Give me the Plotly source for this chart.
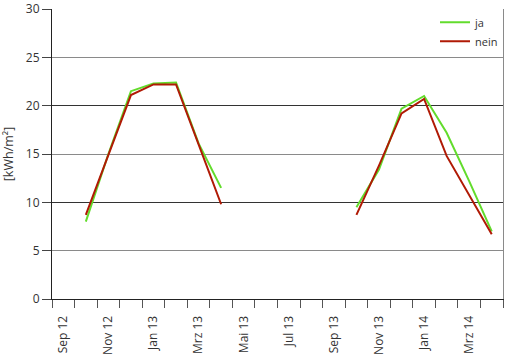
import plotly.graph_objects as go

months = ["Sep 12", "Okt 12", "Nov 12", "Dez 12", "Jan 13", "Feb 13", "Mrz 13", "Apr 13",
          "Mai 13", "Jun 13", "Jul 13", "Aug 13", "Sep 13", "Okt 13", "Nov 13", "Dez 13",
          "Jan 14", "Feb 14", "Mrz 14", "Apr 14"]
ja = [None, 8.0, 15.0, 21.5, 22.3, 22.4, 16.1, 11.5,
      None, None, None, None, None, 9.5, 13.4, 19.7,
      21.0, 17.2, 12.2, 7.0]
nein = [None, 8.7, 15.0, 21.1, 22.2, 22.2, 16.0, 9.8,
        None, None, None, None, None, 8.7, 13.8, 19.2,
        20.7, 14.8, 10.8, 6.7]
y_max = 30
y_step = 5
y_major_step = 10

font = "Open Sans, Noto Sans, DejaVu Sans, sans-serif"

fig = go.Figure()
fig.add_trace(go.Scatter(x=months, y=ja, name="ja", mode="lines",
                         line=dict(color="#62dc2c", width=2), connectgaps=False))
fig.add_trace(go.Scatter(x=months, y=nein, name="nein", mode="lines",
                         line=dict(color="#b01a05", width=2), connectgaps=False))
# invisible trace to activate the overlay axis used for the darker grid lines
fig.add_trace(go.Scatter(x=months, y=[None] * len(months), yaxis="y2",
                         showlegend=False, hoverinfo="skip"))

fig.update_layout(
    width=506, height=357,
    margin=dict(l=52, r=2.5, t=9, b=58, autoexpand=False),
    paper_bgcolor="white", plot_bgcolor="white",
    font=dict(family=font, size=12, color="#333333"),
    showlegend=True,
    legend=dict(x=1, xanchor="right", y=1.004, yanchor="top", bgcolor="rgba(0,0,0,0)",
                font=dict(size=11, color="#333333"), tracegroupgap=0,
                itemwidth=30),
    xaxis=dict(
        type="category", categoryorder="array", categoryarray=months,
        range=[-0.5, len(months) - 0.5], automargin=False,
        showgrid=False, showline=True, linecolor="#222222", linewidth=1,
        ticks="outside", ticklen=8, tickcolor="#555555", tickson="boundaries",
        dtick=1, ticklabelstep=2, tickangle=-90, ticklabelstandoff=11,
        tickfont=dict(size=12, color="#333333"),
    ),
    yaxis=dict(
        range=[0, y_max], tick0=0, dtick=y_step,
        showgrid=True, gridcolor="#8a8a8a", gridwidth=1,
        showline=True, linecolor="#222222", linewidth=1, automargin=False,
        ticks="outside", ticklen=9, tickcolor="#444444",
        zeroline=False, tickfont=dict(size=12, color="#333333"),
        title=dict(text="[kWh/m²]", font=dict(size=12.5, color="#333333"), standoff=9),
    ),
    yaxis2=dict(
        range=[0, y_max], tick0=0, dtick=y_major_step, overlaying="y", side="right",
        showgrid=True, gridcolor="#333333", gridwidth=1, automargin=False,
        showline=True, linecolor="#8a8a8a", linewidth=1,
        showticklabels=False, ticks="", zeroline=False,
    ),
)

fig.write_html("out.html", post_script="document.body.style.margin='0';",
               config={"displayModeBar": False})
